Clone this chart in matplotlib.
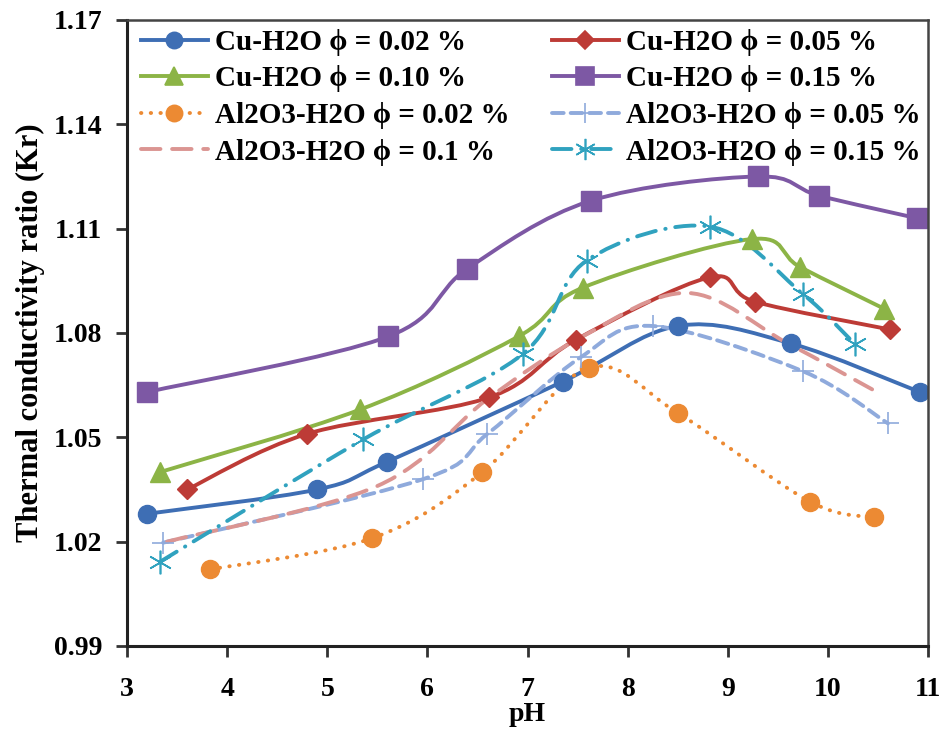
import numpy as np
import matplotlib.pyplot as plt
from matplotlib.path import Path
from matplotlib.patches import PathPatch
from matplotlib.lines import Line2D

# data (pH, thermal conductivity ratio)
cu002_x = [3.2, 4.9, 5.6, 7.35, 8.5, 9.63, 10.92]
cu002_y = [1.028, 1.035, 1.043, 1.066, 1.082, 1.077, 1.063]
cu005_x = [3.6, 4.8, 6.62, 7.48, 8.82, 9.27, 10.62]
cu005_y = [1.035, 1.051, 1.0615, 1.078, 1.096, 1.089, 1.081]
cu010_x = [3.33, 5.33, 6.91, 7.55, 9.24, 9.72, 10.56]
cu010_y = [1.040, 1.058, 1.079, 1.093, 1.107, 1.099, 1.087]
cu015_x = [3.2, 5.61, 6.4, 7.63, 9.3, 9.91, 10.89]
cu015_y = [1.063, 1.079, 1.0985, 1.118, 1.125, 1.1195, 1.113]
al002_x = [3.83, 5.45, 6.55, 7.61, 8.5, 9.82, 10.46]
al002_y = [1.012, 1.021, 1.040, 1.070, 1.057, 1.0315, 1.027]
al005_x = [3.36, 5.96, 6.6, 7.53, 8.25, 9.75, 10.6]
al005_y = [1.0197, 1.038, 1.051, 1.073, 1.082, 1.069, 1.054]
al01_x = [3.4, 5.5, 6.6, 7.55, 8.6, 9.6, 10.46]
al01_y = [1.020, 1.036, 1.061, 1.079, 1.0915, 1.077, 1.0635]
al015_x = [3.33, 5.36, 6.95, 7.59, 8.82, 9.75, 10.27]
al015_y = [1.0142, 1.0494, 1.0739, 1.1008, 1.1106, 1.0912, 1.0768]

labels = ["Cu-H2O ϕ = 0.02 %", "Cu-H2O ϕ = 0.05 %", "Cu-H2O ϕ = 0.10 %",
          "Cu-H2O ϕ = 0.15 %", "Al2O3-H2O ϕ = 0.02 %", "Al2O3-H2O ϕ = 0.05 %",
          "Al2O3-H2O ϕ = 0.1 %", "Al2O3-H2O ϕ = 0.15 %"]

plt.rcParams['font.family'] = ['Liberation Serif', 'DejaVu Serif']
plt.rcParams['font.weight'] = 'bold'


def smooth(xs, ys):
    # excel style smoothed line as cubic bezier segments
    pts = np.column_stack([xs, ys])
    n = len(pts)
    verts = [pts[0]]
    codes = [Path.MOVETO]
    for i in range(n - 1):
        p0 = pts[max(i - 1, 0)]
        p1 = pts[i]
        p2 = pts[i + 1]
        p3 = pts[min(i + 2, n - 1)]
        verts += [p1 + (p2 - p0) / 6, p2 - (p3 - p1) / 6, p2]
        codes += [Path.CURVE4] * 3
    return Path(verts, codes)


series = [
    (cu002_x, cu002_y, '#3E6EB4', '-', 'o', 13, 2.8),
    (cu005_x, cu005_y, '#BD3B36', '-', 'D', 10, 2.8),
    (cu010_x, cu010_y, '#8CB446', '-', '^', 14, 2.8),
    (cu015_x, cu015_y, '#7D58A4', '-', 's', 14, 2.8),
    (al002_x, al002_y, '#EC8A33', (0, (0.1, 2.4)), 'o', 13, 2.8),
    (al005_x, al005_y, '#8FAADC', (0, (3, 1.8)), '+', 16, 2.8),
    (al01_x, al01_y, '#DB9592', (0, (5, 3)), None, 0, 2.8),
    (al015_x, al015_y, '#30A2BF', (0, (5, 2.5, 0.1, 2.5)), (6, 2, 0), 17, 2.8),
]

fig = plt.figure(figsize=(9.43, 7.29), dpi=100)
ax = fig.add_axes([0.1347, 0.1139, 0.8494, 0.8587])

handles = []
for (xs, ys, c, ls, mk, ms, lw), lab in zip(series, labels):
    ax.add_patch(PathPatch(smooth(xs, ys), fill=False, edgecolor=c, lw=lw,
                           linestyle=ls, capstyle='round' if ls != '-' else 'butt'))
    if mk is not None:
        mew = 1.2 if mk in ('+', (6, 2, 0)) else 1
        ax.plot(xs, ys, ls='none', marker=mk, ms=ms, color=c, mew=mew)
    handles.append(Line2D([], [], color=c, lw=lw, ls=ls, marker=mk, ms=ms * 0.9,
                          dash_capstyle='round', mew=1.2))

order = [0, 2, 4, 6, 1, 3, 5, 7]
ax.legend([handles[i] for i in order], [labels[i] for i in order], ncol=2,
          loc='upper left', bbox_to_anchor=(0.006, 1.0), frameon=False,
          fontsize=21, handlelength=2.3, handletextpad=0.25, labelspacing=0.33,
          columnspacing=1.45, borderaxespad=0.0, borderpad=0.3)

ax.set_xlim(3, 11)
ax.set_ylim(0.99, 1.17)
ax.set_xticks(np.arange(3, 12, 1))
ax.set_yticks([0.99, 1.02, 1.05, 1.08, 1.11, 1.14, 1.17])
ax.set_yticklabels(['0.99', '1.02', '1.05', '1.08', '1.11', '1.14', '1.17'])
ax.tick_params(labelsize=20, direction='out', length=8, width=2, color='#333333')
ax.tick_params(axis='x', pad=14)
ax.tick_params(axis='y', pad=10)
for s in ['left', 'bottom']:
    ax.spines[s].set_linewidth(2.2)
    ax.spines[s].set_color('#222222')
for s in ['top', 'right']:
    ax.spines[s].set_linewidth(1.8)
    ax.spines[s].set_color('#444444')

ax.set_xlabel('pH', fontsize=20, fontweight='bold', labelpad=0)
ax.set_ylabel('Thermal conductivity ratio (Kr)', fontsize=22, fontweight='bold',
              labelpad=6)

fig.savefig('out.png', dpi=100)
